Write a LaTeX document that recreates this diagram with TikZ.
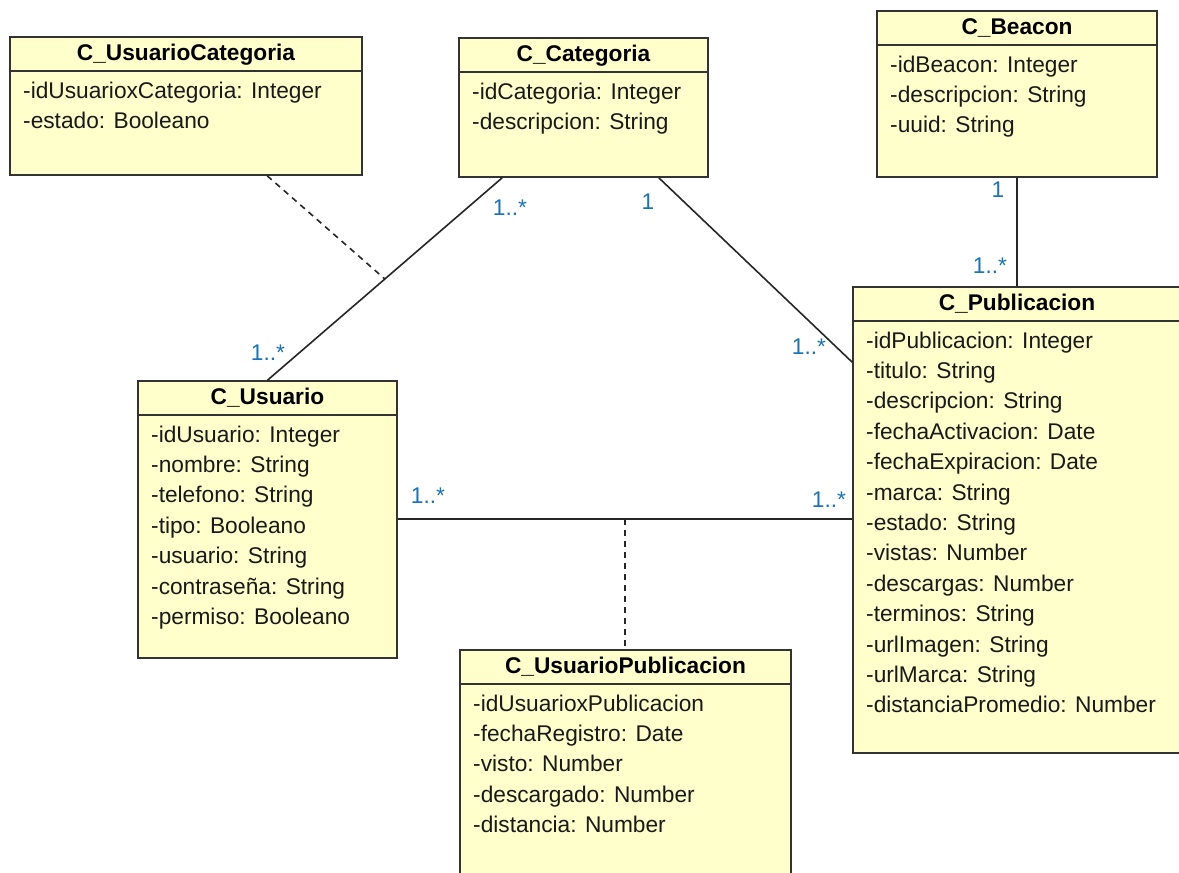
\documentclass[tikz,border=0pt]{standalone}
\usepackage{fontspec}
\setmainfont{Liberation Sans}
\usetikzlibrary{calc,fit}

\definecolor{classfill}{RGB}{255,255,204}
\definecolor{multcol}{RGB}{25,115,185}

\tikzset{
  classbox/.style={rectangle, draw=black!80, line width=1.6pt, fill=classfill, inner sep=0pt},
  sepline/.style={draw=black!80, line width=1.6pt},
  titletext/.style={font=\fontsize{22.7}{26}\selectfont\bfseries, text=black, inner sep=0pt, anchor=base},
  attrtext/.style={font=\fontsize{22.7}{26}\selectfont, text=black!90, inner sep=0pt, anchor=base west},
  assoc/.style={draw=black!85, line width=1.6pt},
  assocdash/.style={draw=black!85, line width=1.6pt, dash pattern=on 6pt off 5pt},
  mult/.style={font=\fontsize{22.7}{26}\selectfont, text=multcol, inner sep=0pt},
}

% #1 name, #2 left, #3 top, #4 right, #5 bottom, #6 title, #7 attributes
\newcommand\umlclass[7]{%
  \node[classbox, fit={(#2,#3) (#4,#5)}] (#1) {};
  \draw[sepline] (#2,{#3+34}) -- (#4,{#3+34});
  \node[titletext] (#1-title) at ({(#2+#4)/2},{#3+23}) {#6};
  \foreach \attr [count=\i] in {#7} {
    \node[attrtext] (#1-attr\i) at ({#2+13},{#3+61+(\i-1)*30.4}) {\attr};
  }
}

\begin{document}
\begin{tikzpicture}[x=1pt, y=-1pt]
  \useasboundingbox[fill=white] (0,0) rectangle (1179,873);

  % classes
  \umlclass{uc}{10}{37}{362}{175}{C\_UsuarioCategoria}%
    {-idUsuarioxCategoria: Integer, -estado: Booleano}
  \umlclass{cat}{459}{38}{708}{177}{C\_Categoria}%
    {-idCategoria: Integer, -descripcion: String}
  \umlclass{bea}{877}{11}{1157}{177}{C\_Beacon}%
    {-idBeacon: Integer, -descripcion: String, -uuid: String}
  \umlclass{usr}{138}{381}{397}{658}{C\_Usuario}%
    {-idUsuario: Integer, -nombre: String, -telefono: String, -tipo: Booleano,
     -usuario: String, -contraseña: String, -permiso: Booleano}
  \umlclass{pub}{853}{287}{1181}{753}{C\_Publicacion}%
    {-idPublicacion: Integer, -titulo: String, -descripcion: String,
     -fechaActivacion: Date, -fechaExpiracion: Date, -marca: String,
     -estado: String, -vistas: Number, -descargas: Number, -terminos: String,
     -urlImagen: String, -urlMarca: String, -distanciaPromedio: Number}
  \umlclass{up}{460}{650}{791}{900}{C\_UsuarioPublicacion}%
    {-idUsuarioxPublicacion, -fechaRegistro: Date, -visto: Number,
     -descargado: Number, -distancia: Number}

  % associations
  \draw[assoc] ([xshift=44pt]cat.south west) -- (usr.north)
    coordinate[pos=0.5] (catusr);
  \draw[assoc] ([xshift=-50pt]cat.south east) -- ([yshift=-76pt]pub.north west);
  \draw[assoc] (bea.south) -- (bea.south |- pub.north);
  \draw[assoc] ([yshift=-139pt]usr.north east) coordinate (usrpub)
    -- (usrpub -| pub.west) coordinate[pos=0.5] (usrpubmid);

  % association classes
  \draw[assocdash] ([xshift=258pt]uc.south west) -- (catusr);
  \draw[assocdash] (usrpubmid) -- (usrpubmid |- up.north);

  % multiplicities
  \node[mult] (m1) at (510,208) {1..*};
  \node[mult] (m2) at (648,202) {1};
  \node[mult] (m3) at (268,353) {1..*};
  \node[mult] (m4) at (809,347) {1..*};
  \node[mult] (m5) at (998,190) {1};
  \node[mult] (m6) at (990,266) {1..*};
  \node[mult] (m7) at (428,496) {1..*};
  \node[mult] (m8) at (829,500) {1..*};
\end{tikzpicture}
\end{document}
